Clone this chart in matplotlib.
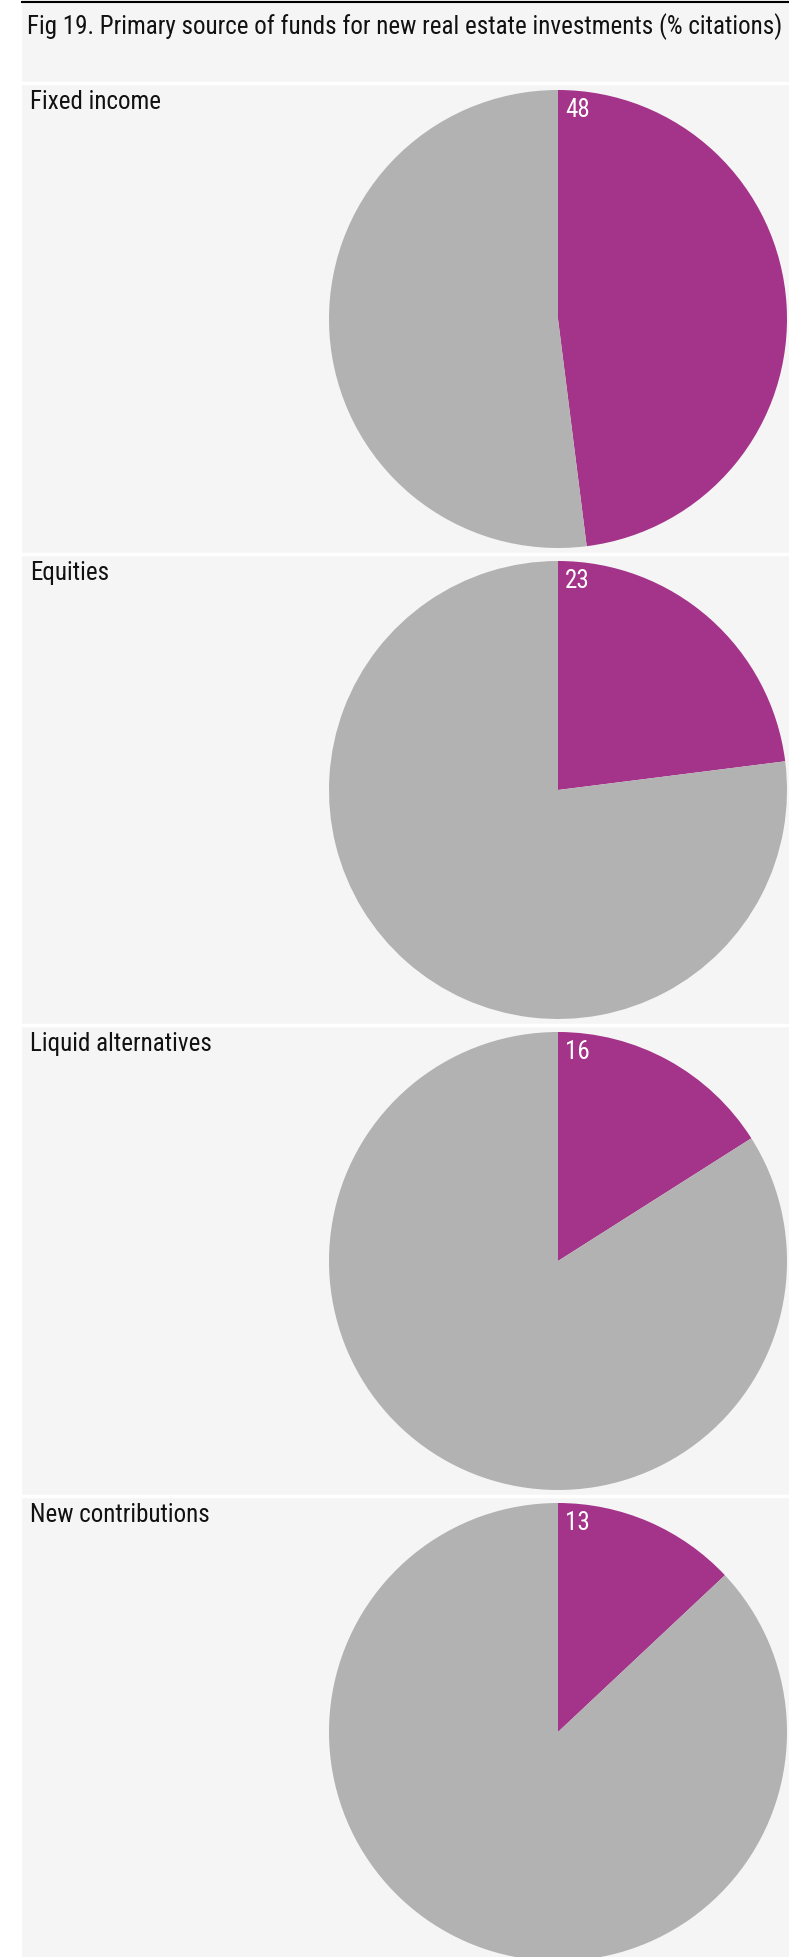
import matplotlib
matplotlib.use("Agg")
import matplotlib.pyplot as plt
from matplotlib.patches import Rectangle

categories = ["Fixed income", "Equities", "Liquid alternatives", "New contributions"]
shares = [48, 23, 16, 13]
title = "Fig 19. Primary source of funds for new real estate investments (% citations)"

W, H = 789, 1958
plt.rcParams['font.family'] = ['Roboto Condensed', 'Liberation Sans Narrow', 'Roboto', 'DejaVu Sans']

fig = plt.figure(figsize=(W / 100, H / 100), dpi=100)
fig.patch.set_facecolor("white")

# fond gris et ligne noire en haut
fig.add_artist(Rectangle((22 / W, 0), 1, 1, transform=fig.transFigure,
                         facecolor="#f5f5f5", edgecolor="none", zorder=-5))
fig.add_artist(plt.Line2D([22 / W, 1], [1 - 3 / H, 1 - 3 / H], color="black", lw=1.5))
fig.text(27 / W, 1 - 27 / H, title, fontsize=18, va="center", ha="left", color="#111111")

panel_top = 84
panel_h = 471
cx, r = 558, 229

for i, (cat, v) in enumerate(zip(categories, shares)):
    top = panel_top + i * panel_h
    # ligne blanche de séparation
    fig.add_artist(plt.Line2D([22 / W, 1], [1 - top / H, 1 - top / H], color="white",
                              lw=2.5, zorder=-4))
    fig.text(30 / W, 1 - (top + 18) / H, cat, fontsize=18, va="center", ha="left", color="#111111")

    cy = top + 236
    ax = fig.add_axes([(cx - r) / W, 1 - (cy + r) / H, 2 * r / W, 2 * r / H])
    ax.pie([v, 100 - v], colors=["#a4338a", "#b2b2b2"], startangle=90, counterclock=False,
           radius=1, wedgeprops=dict(linewidth=0))
    ax.set_xlim(-1, 1)
    ax.set_ylim(-1, 1)
    ax.set_aspect("equal")
    ax.axis("off")
    ax.text(0.03, 0.915, str(v), color="white", fontsize=18, ha="left", va="center")

fig.savefig("out.png", dpi=100)
